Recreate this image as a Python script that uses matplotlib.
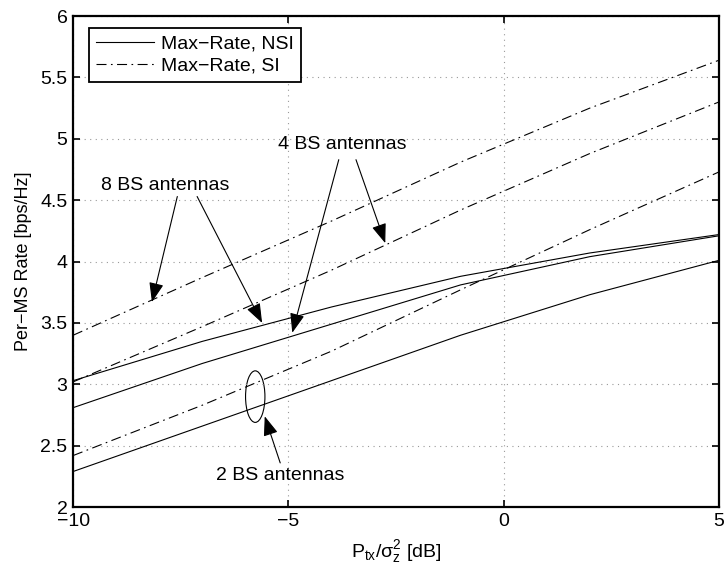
import numpy as np
import matplotlib
matplotlib.use('Agg')
import matplotlib.pyplot as plt
from matplotlib.patches import Ellipse

plt.rcParams['font.family'] = ['Liberation Sans', 'DejaVu Sans']
plt.rcParams['mathtext.default'] = 'regular'

# transmit SNR [dB]
snr_db = [-10, -7, -4, -1, 2, 5]

# per-MS rate [bps/Hz], no side information
nsi_8bs = [3.03, 3.35, 3.63, 3.88, 4.07, 4.22]
nsi_4bs = [2.81, 3.17, 3.49, 3.81, 4.04, 4.21]
nsi_2bs = [2.29, 2.66, 3.03, 3.40, 3.73, 4.01]

# per-MS rate [bps/Hz], with side information
si_8bs = [3.40, 3.87, 4.33, 4.81, 5.25, 5.64]
si_4bs = [3.02, 3.47, 3.93, 4.42, 4.88, 5.30]
si_2bs = [2.42, 2.83, 3.27, 3.77, 4.26, 4.73]

x_ticks = [-10, -5, 0, 5]
y_ticks = [2, 2.5, 3, 3.5, 4, 4.5, 5, 5.5, 6]

fig = plt.figure(figsize=(7.24, 5.73), dpi=100)
ax = fig.add_axes([0.101, 0.115, 0.892, 0.857])

dashdot = (0, (9, 4, 1.5, 4))
ax.plot(snr_db, nsi_8bs, color='black', lw=0.8, label='Max\u2212Rate, NSI')
ax.plot(snr_db, si_8bs, color='black', lw=0.8, linestyle=dashdot, label='Max\u2212Rate, SI')
ax.plot(snr_db, nsi_4bs, color='black', lw=0.8)
ax.plot(snr_db, si_4bs, color='black', lw=0.8, linestyle=dashdot)
ax.plot(snr_db, nsi_2bs, color='black', lw=0.8)
ax.plot(snr_db, si_2bs, color='black', lw=0.8, linestyle=dashdot)

ax.set_xlim(-10, 5)
ax.set_ylim(2, 6)
ax.set_xticks(x_ticks)
ax.set_yticks(y_ticks)
ax.set_xticklabels(['\u221210', '\u22125', '0', '5'])
ax.set_yticklabels(['2', '2.5', '3', '3.5', '4', '4.5', '5', '5.5', '6'])
ax.tick_params(direction='in', top=True, right=True, length=5, width=1.2,
               labelsize=14, pad=4)
ax.grid(True, linestyle=(0, (1, 4)), color='#999999', linewidth=0.8)
for s in ax.spines.values():
    s.set_linewidth(1.6)

ax.set_xlabel(r'$P_{tx}/\sigma_z^2$ [dB]', fontsize=14, labelpad=6)
ax.set_ylabel('Per\u2212MS Rate [bps/Hz]', fontsize=13, labelpad=6)

leg = ax.legend(loc='upper left', bbox_to_anchor=(0.0248, 0.9756), fontsize=14,
                fancybox=False, framealpha=1, edgecolor='black', borderaxespad=0,
                handlelength=3.0, handletextpad=0.35, borderpad=0.35, labelspacing=0.25)
leg.get_frame().set_linewidth(1.3)

arrow = dict(arrowstyle='-|>,head_length=1.2,head_width=0.45', color='black', lw=0.8,
             shrinkA=0, shrinkB=0)

ax.text(-7.86, 4.62, '8 BS antennas', ha='center', va='center', fontsize=14)
ax.annotate('', xy=(-8.17, 3.67), xytext=(-7.58, 4.53), arrowprops=arrow)
ax.annotate('', xy=(-5.61, 3.50), xytext=(-7.12, 4.53), arrowprops=arrow)

ax.text(-3.76, 4.95, '4 BS antennas', ha='center', va='center', fontsize=14)
ax.annotate('', xy=(-4.91, 3.42), xytext=(-3.83, 4.83), arrowprops=arrow)
ax.annotate('', xy=(-2.75, 4.15), xytext=(-3.43, 4.83), arrowprops=arrow)

ax.text(-5.20, 2.26, '2 BS antennas', ha='center', va='center', fontsize=14)
ax.annotate('', xy=(-5.55, 2.74), xytext=(-5.19, 2.36), arrowprops=arrow)
ax.add_patch(Ellipse((-5.77, 2.90), 0.45, 0.42, fill=False, color='black', lw=0.8))

fig.savefig('out.png', dpi=100)
